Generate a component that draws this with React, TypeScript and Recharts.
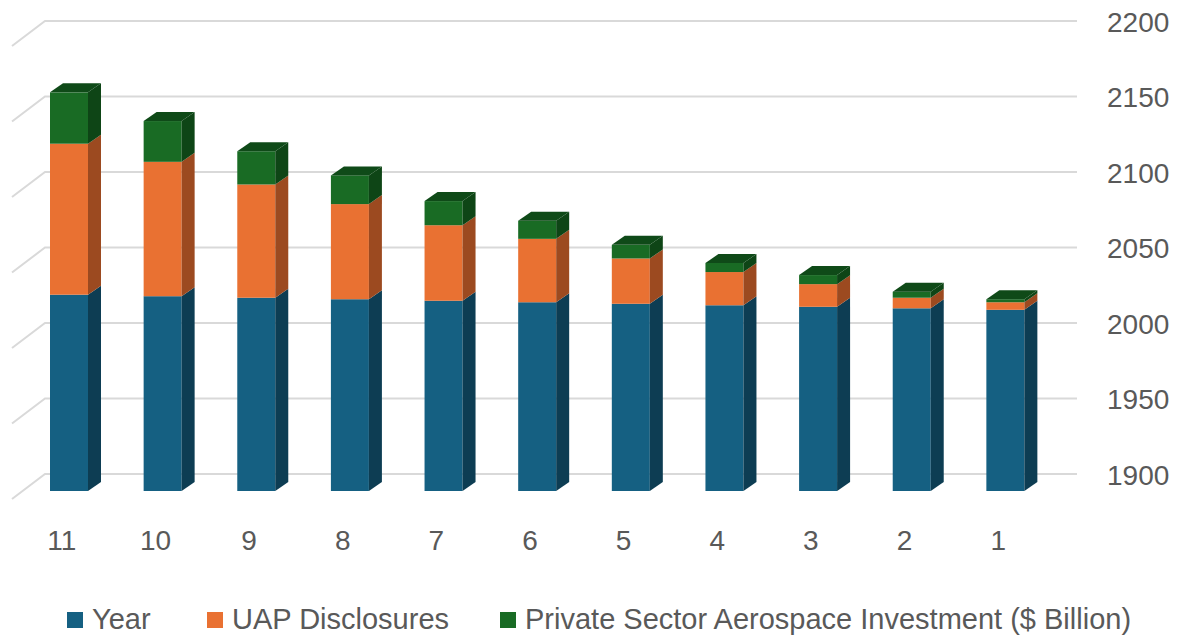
import { BarChart, Bar, XAxis, YAxis, CartesianGrid } from 'recharts';

const categories = ['11', '10', '9', '8', '7', '6', '5', '4', '3', '2', '1'];
const yearValues = [2030, 2029, 2028, 2027, 2026, 2025, 2024, 2023, 2022, 2021, 2020];
const uapValues = [100, 89, 75, 63, 50, 42, 30, 22, 15, 7, 5];
const investValues = [34, 27, 22, 19, 16, 12, 9, 6, 6, 4, 2];
const yTicks = [1900, 1950, 2000, 2050, 2100, 2150, 2200];

const data = categories.map((label, i) => ({
  label,
  year: yearValues[i],
  uap: uapValues[i],
  invest: investValues[i],
}));

const FONT = "'Liberation Sans', Arial, sans-serif";
const TEXT = '#595959';
// depth of the 3d box: bar side face and back wall offset
const SIDE_DX = 13;
const SIDE_DY = 9;
const WALL_DX = 23;
const WALL_DY = 17;
const FLOOR_DX = 33;
const FLOOR_DY = 25;

const series = [
  { key: 'year', name: 'Year', front: '#156082', side: '#0d3d53', top: '#114f6c', legendLeft: 67 },
  { key: 'uap', name: 'UAP Disclosures', front: '#e97132', side: '#9c4a20', top: '#c45d28', legendLeft: 207 },
  { key: 'invest', name: 'Private Sector Aerospace Investment ($ Billion)', front: '#196b24', side: '#0e4516', top: '#0f4a18', legendLeft: 500 },
];

function makeShape(s: typeof series[number], isTop: boolean) {
  return (props: any) => {
    const { x, y, width, height } = props;
    if (!height || height <= 0) return <g />;
    return (
      <g>
        <rect x={x} y={y} width={width} height={height} fill={s.front} />
        <polygon
          points={`${x + width},${y} ${x + width + SIDE_DX},${y - SIDE_DY} ${x + width + SIDE_DX},${y + height - SIDE_DY} ${x + width},${y + height}`}
          fill={s.side}
        />
        {isTop && (
          <polygon
            points={`${x},${y} ${x + SIDE_DX},${y - SIDE_DY} ${x + width + SIDE_DX},${y - SIDE_DY} ${x + width},${y}`}
            fill={s.top}
          />
        )}
      </g>
    );
  };
}

function GridLine(props: any) {
  const { x1, x2, y1 } = props;
  const bx = x1 + WALL_DX;
  const by = y1 - WALL_DY;
  const ex = x2 + WALL_DX + 2;
  return (
    <path
      key={props.key}
      d={`M${bx - FLOOR_DX},${by + FLOOR_DY} L${bx},${by} L${ex},${by}`}
      stroke="#d9d9d9"
      strokeWidth={2}
      fill="none"
    />
  );
}

function XTick(props: any) {
  const { x, y, payload } = props;
  return (
    <text x={x - 7} y={y + 41} textAnchor="middle" dominantBaseline="central" fontSize={28} fontFamily={FONT} fill={TEXT}>
      {payload.value}
    </text>
  );
}

function YTick(props: any) {
  const { x, y, payload } = props;
  return (
    <text x={x + 47} y={y - WALL_DY + 1} textAnchor="start" dominantBaseline="central" fontSize={28} fontFamily={FONT} fill={TEXT}>
      {payload.value}
    </text>
  );
}

export default function App() {
  return (
    <div style={{ position: 'absolute', left: 0, top: 0, width: 1183, height: 635, background: '#fff' }}>
      <BarChart
        width={1183}
        height={635}
        data={data}
        margin={{ top: 38, right: 0, left: 22, bottom: 0 }}
        barSize={38}
      >
        <CartesianGrid vertical={false} horizontal={(p: any) => <GridLine {...p} />} />
        <XAxis dataKey="label" axisLine={false} tickLine={false} height={144} tick={<XTick />} interval={0} />
        <YAxis
          orientation="right"
          domain={[1900, 2200]}
          ticks={yTicks}
          allowDataOverflow
          axisLine={false}
          tickLine={false}
          width={131}
          tick={<YTick />}
        />
        {series.map((s, i) => (
          <Bar
            key={s.key}
            dataKey={s.key}
            name={s.name}
            stackId="a"
            fill={s.front}
            isAnimationActive={false}
            shape={makeShape(s, i === series.length - 1)}
          />
        ))}
      </BarChart>
      {series.map((s) => (
        <div
          key={s.key}
          style={{
            position: 'absolute',
            left: s.legendLeft,
            top: 603,
            display: 'flex',
            alignItems: 'center',
            fontFamily: FONT,
            fontSize: 29,
            color: TEXT,
            whiteSpace: 'nowrap',
          }}
        >
          <span style={{ display: 'inline-block', width: 16, height: 16, background: s.front, marginRight: 9 }} />
          <span>{s.name}</span>
        </div>
      ))}
    </div>
  );
}
